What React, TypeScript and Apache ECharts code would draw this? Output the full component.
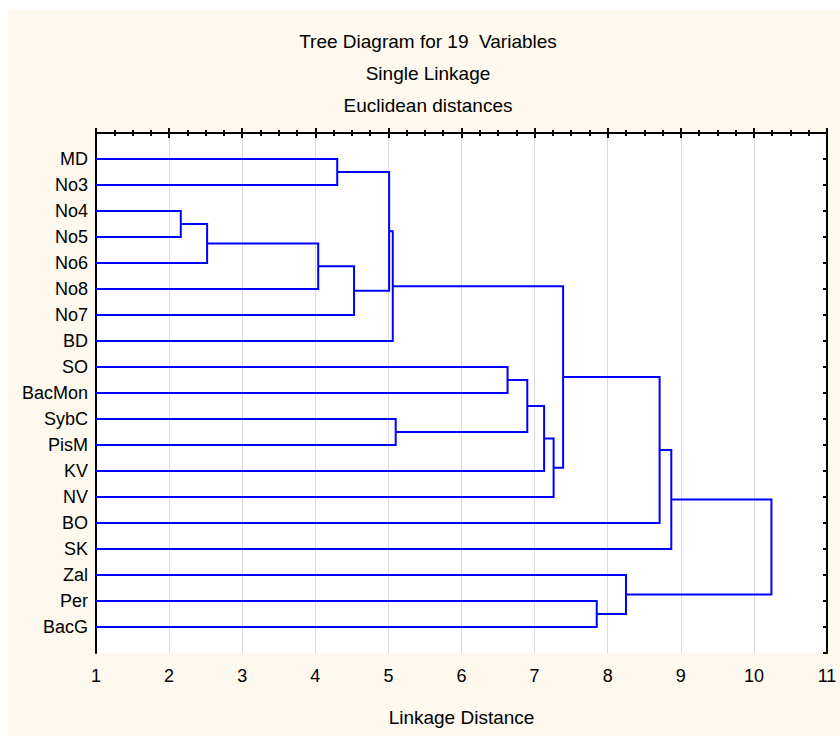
import React, { useEffect, useRef } from "react";
import * as echarts from "echarts";

// Leaf order (top to bottom)
const leafLabels = [
  "MD", "No3", "No4", "No5", "No6", "No8", "No7", "BD", "SO", "BacMon",
  "SybC", "PisM", "KV", "NV", "BO", "SK", "Zal", "Per", "BacG",
];

// Linkage table: cluster ids 0..18 are leaves, each merge creates id 19, 20, ...
const mergeA = [2, 19, 20, 0, 21, 22, 24, 10, 8, 27, 28, 29, 25, 17, 16, 31, 34, 35];
const mergeB = [3, 4, 5, 1, 6, 23, 7, 11, 9, 26, 12, 13, 30, 18, 32, 14, 15, 33];
const mergeHeight = [
  2.16, 2.52, 4.04, 4.3, 4.53, 5.01, 5.06, 5.1, 6.63, 6.9, 7.13, 7.26, 7.39,
  7.85, 8.25, 8.71, 8.87, 10.24,
];

const xTicks = [1, 11];
const titleLines = ["Tree Diagram for 19  Variables", "Single Linkage", "Euclidean distances"];
const xAxisName = "Linkage Distance";

const FONT = "'Liberation Sans', Arial, sans-serif";

function buildSegments() {
  const pos: number[] = leafLabels.map((_, i) => i + 1);
  const hgt: number[] = leafLabels.map(() => xTicks[0]);
  const segs: number[][] = [];
  for (let k = 0; k < mergeA.length; k++) {
    const a = mergeA[k];
    const b = mergeB[k];
    const h = mergeHeight[k];
    segs.push([hgt[a], pos[a], h, pos[b], hgt[b]]);
    pos.push((pos[a] + pos[b]) / 2);
    hgt.push(h);
  }
  return segs;
}

export default function App() {
  const ref = useRef<HTMLDivElement>(null);
  useEffect(() => {
    if (!ref.current) return;
    const chart = echarts.init(ref.current, null, { renderer: "svg" });
    const segs = buildSegments();
    const axisLineStyle = { color: "#000", width: 2 };
    const option: any = {
      animation: false,
      backgroundColor: "#ffffff",
      graphic: {
        elements: [
          {
            type: "rect",
            z: -100,
            shape: { x: 8, y: 10, width: 832, height: 726 },
            style: { fill: "#fdf9ee" },
            silent: true,
          },
        ],
      },
      title: titleLines.map((t, i) => ({
        text: t,
        left: 428,
        top: 31 + i * 32,
        textAlign: "center",
        padding: 0,
        textStyle: {
          fontFamily: FONT,
          fontSize: 19,
          fontWeight: "normal",
          color: "#000",
          lineHeight: 20,
        },
      })),
      grid: {
        left: 96,
        right: 13,
        top: 133,
        bottom: 83,
        show: true,
        backgroundColor: "#ffffff",
        borderWidth: 0,
      },
      xAxis: [
        {
          type: "value",
          position: "bottom",
          min: xTicks[0],
          max: xTicks[1],
          interval: 1,
          name: xAxisName,
          nameLocation: "middle",
          nameGap: 55,
          nameTextStyle: { fontFamily: FONT, fontSize: 19, color: "#000" },
          axisLine: { show: true, lineStyle: axisLineStyle },
          axisTick: { show: true, inside: true, length: 5, lineStyle: { color: "#000", width: 2 } },
          minorTick: { show: true, splitNumber: 4, length: 3, lineStyle: { color: "#000", width: 2 } },
          axisLabel: { fontFamily: FONT, fontSize: 18, color: "#000", margin: 14 },
          splitLine: { show: true, lineStyle: { color: "#dadada", width: 1 } },
        },
        {
          type: "value",
          position: "top",
          min: xTicks[0],
          max: xTicks[1],
          interval: 1,
          axisLine: { show: true, lineStyle: axisLineStyle },
          axisTick: { show: true, inside: true, length: 5, lineStyle: { color: "#000", width: 2 } },
          minorTick: { show: true, splitNumber: 4, length: 3, lineStyle: { color: "#000", width: 2 } },
          axisLabel: { show: false },
          splitLine: { show: false },
        },
      ],
      yAxis: [
        {
          type: "value",
          position: "left",
          min: 0,
          max: leafLabels.length + 1,
          interval: 1,
          inverse: true,
          axisLine: { show: true, lineStyle: axisLineStyle },
          axisTick: { show: false },
          axisLabel: {
            fontFamily: FONT,
            fontSize: 18,
            color: "#000",
            margin: 8,
            formatter: (v: number) => leafLabels[v - 1] ?? "",
          },
          splitLine: { show: false },
        },
        {
          type: "value",
          position: "right",
          min: 0,
          max: leafLabels.length + 1,
          interval: 1,
          inverse: true,
          axisLine: { show: true, lineStyle: axisLineStyle },
          axisTick: { show: true, inside: true, length: 4, lineStyle: { color: "#000", width: 2 } },
          axisLabel: { show: false },
          splitLine: { show: false },
        },
      ],
      series: [
        {
          type: "custom",
          xAxisIndex: 0,
          yAxisIndex: 0,
          data: segs,
          encode: { x: [0, 2, 4], y: [1, 3] },
          renderItem: (params: any, api: any) => {
            const hL = api.value(0);
            const yL = api.value(1);
            const h = api.value(2);
            const yR = api.value(3);
            const hR = api.value(4);
            const pts = [
              api.coord([hL, yL]),
              api.coord([h, yL]),
              api.coord([h, yR]),
              api.coord([hR, yR]),
            ];
            return {
              type: "polyline",
              shape: { points: pts },
              style: { stroke: "#0000ff", lineWidth: 2, fill: "none" },
            };
          },
          z: 5,
        },
      ],
    };
    chart.setOption(option);
    return () => chart.dispose();
  }, []);
  return (
    <div
      ref={ref}
      style={{ position: "fixed", left: 0, top: 0, width: 840, height: 736 }}
    />
  );
}
